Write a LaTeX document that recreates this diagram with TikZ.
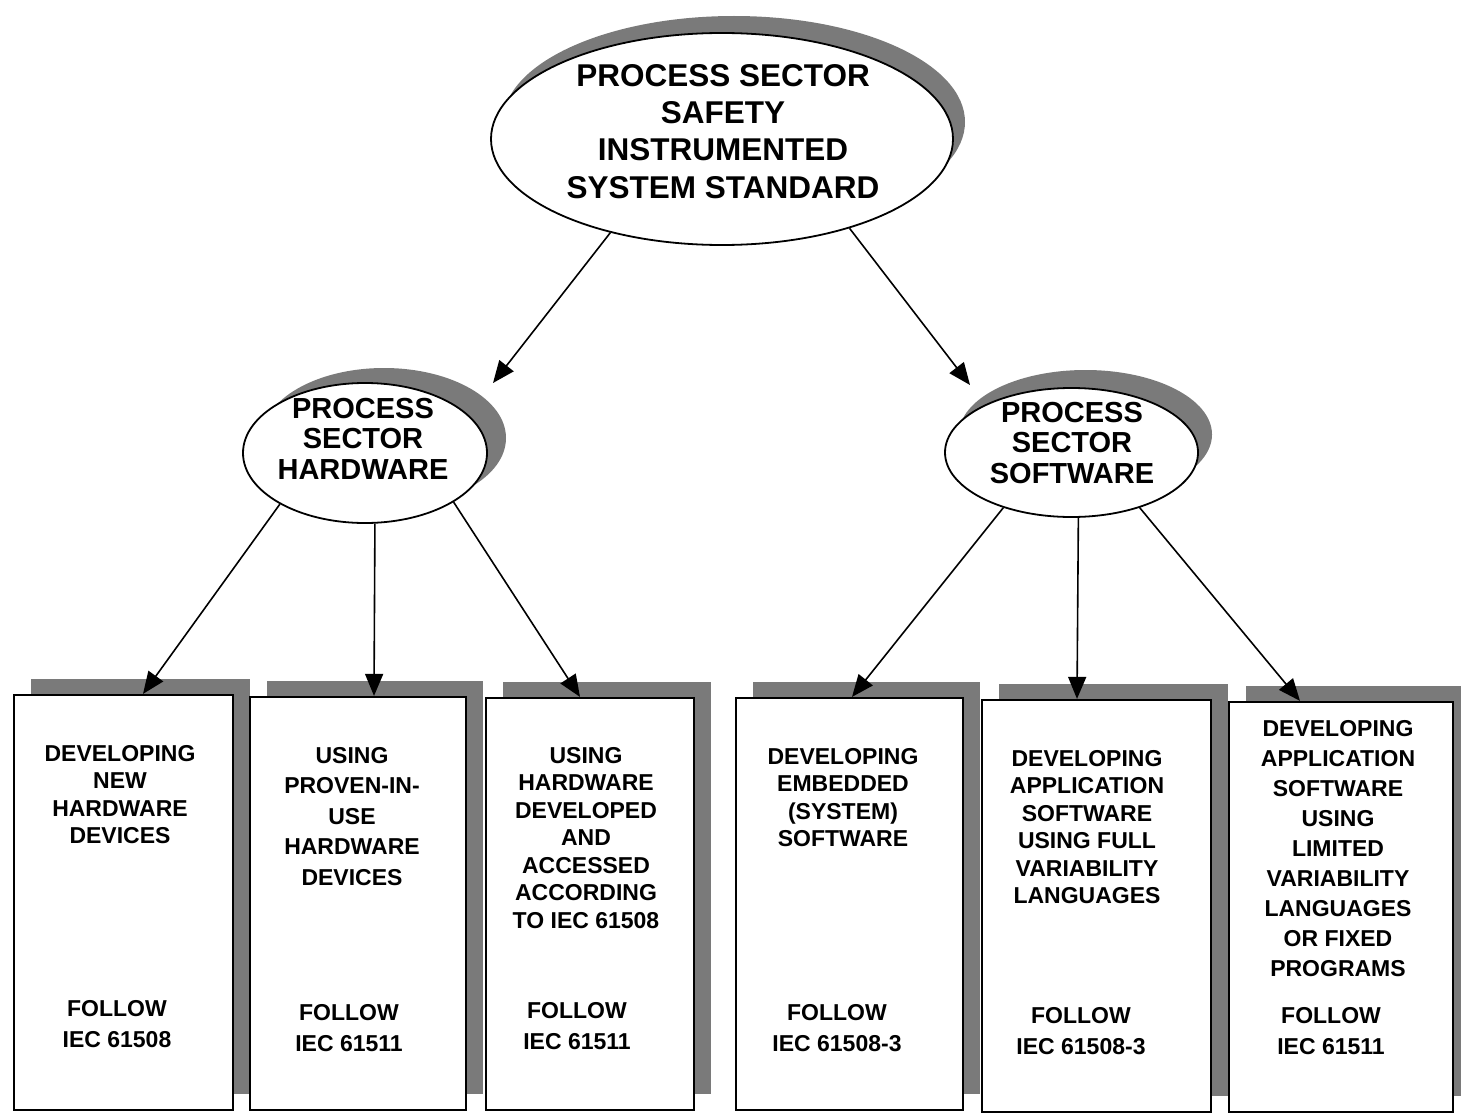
\documentclass[tikz,border=0pt]{standalone}
\usepackage{fontspec}
\setmainfont{Liberation Sans}
\usetikzlibrary{shapes.geometric,arrows.meta,shadows}
\definecolor{shd}{RGB}{122,122,122}
\begin{document}
\begin{tikzpicture}[x=1pt,y=-1pt,
  box/.style={draw=black, line width=2.2pt, fill=white, rectangle, inner sep=0pt,
    general shadow={shadow xshift=17pt, shadow yshift=16pt, fill=shd, draw=none}},
  oval/.style={draw=black, line width=1.8pt, fill=white, ellipse, inner sep=0pt},
  osh/.style 2 args={general shadow={shadow xshift=#1, shadow yshift=#2, fill=shd, draw=none}},
  arr/.style={line width=1.6pt, -{Triangle[length=22pt,width=18pt]}},
  txt/.style={align=center, inner sep=0pt, anchor=north, font=\bfseries\fontsize{23}{27.5}\selectfont},
  wide/.style={font=\bfseries\fontsize{23}{30.5}\selectfont},
  fol/.style={font=\bfseries\fontsize{23}{31}\selectfont},
  big/.style={align=center, inner sep=0pt, anchor=north, font=\bfseries\fontsize{31.5}{37.3}\selectfont},
  mid/.style={align=center, inner sep=0pt, anchor=north, font=\bfseries\fontsize{29}{30.5}\selectfont}
]
\useasboundingbox (0,0) rectangle (1461,1113);

% ellipses
\node[oval, osh={12pt}{17pt}, minimum width=462pt, minimum height=212pt] (top) at (722,139) {};
\node[oval, osh={19pt}{15pt}, minimum width=244pt, minimum height=140pt] (hw) at (365,453) {};
\node[oval, osh={14pt}{18pt}, minimum width=253pt, minimum height=129pt] (sw) at (1071.5,452.5) {};

% boxes
\node[box, minimum width=219pt, minimum height=415pt] (b1) at (123.5,902.5) {};
\node[box, minimum width=216pt, minimum height=413pt] (b2) at (358,903.5) {};
\node[box, minimum width=208pt, minimum height=412pt] (b3) at (590,904) {};
\node[box, minimum width=227pt, minimum height=412pt] (b4) at (849.5,904) {};
\node[box, minimum width=229pt, minimum height=412pt] (b5) at (1096.5,906) {};
\node[box, minimum width=224pt, minimum height=410pt] (b6) at (1341,907) {};

% texts
\node[big] (t0) at (723,64) {PROCESS SECTOR\\SAFETY\\INSTRUMENTED\\SYSTEM STANDARD};
\node[mid] (th) at (363,398) {PROCESS\\SECTOR\\HARDWARE};
\node[mid] (ts) at (1072,402) {PROCESS\\SECTOR\\SOFTWARE};

\node[txt] (t1) at (120,745) {DEVELOPING\\NEW\\HARDWARE\\DEVICES};
\node[txt,fol] (f1) at (117,1000) {FOLLOW\\IEC 61508};
\node[txt,wide] (t2) at (352,747) {USING\\PROVEN-IN-\\USE\\HARDWARE\\DEVICES};
\node[txt,fol] (f2) at (349,1004) {FOLLOW\\IEC 61511};
\node[txt] (t3) at (586,747) {USING\\HARDWARE\\DEVELOPED\\AND\\ACCESSED\\ACCORDING\\TO IEC 61508};
\node[txt,fol] (f3) at (577,1002) {FOLLOW\\IEC 61511};
\node[txt] (t4) at (843,748) {DEVELOPING\\EMBEDDED\\(SYSTEM)\\SOFTWARE};
\node[txt,fol] (f4) at (837,1004) {FOLLOW\\IEC 61508-3};
\node[txt] (t5) at (1087,750) {DEVELOPING\\APPLICATION\\SOFTWARE\\USING FULL\\VARIABILITY\\LANGUAGES};
\node[txt,fol] (f5) at (1081,1007) {FOLLOW\\IEC 61508-3};
\node[txt,font=\bfseries\fontsize{23}{30}\selectfont] (t6) at (1338,720) {DEVELOPING\\APPLICATION\\SOFTWARE\\USING\\LIMITED\\VARIABILITY\\LANGUAGES\\OR FIXED\\PROGRAMS};
\node[txt,fol] (f6) at (1331,1007) {FOLLOW\\IEC 61511};

% arrow ends near ellipses
\coordinate (hwin) at (493,383);
\coordinate (swin) at (970,385);

% arrows
\draw[arr] (top.-140.7) -- (hwin);
\draw[arr] (top.-35.7) -- (swin);
\draw[arr] (hw.-149.5) -- ([xshift=19.5pt]b1.north);
\draw[arr] (hw.-82.7) -- ([xshift=16pt]b2.north);
\draw[arr] (hw.-29.9) -- ([xshift=-10pt]b3.north);
\draw[arr] (sw.-141) -- ([xshift=2.5pt]b4.north);
\draw[arr] (sw.-84.2) -- ([xshift=-19.5pt]b5.north);
\draw[arr] (sw.-39.8) -- ([xshift=-41pt]b6.north);
\end{tikzpicture}
\end{document}
